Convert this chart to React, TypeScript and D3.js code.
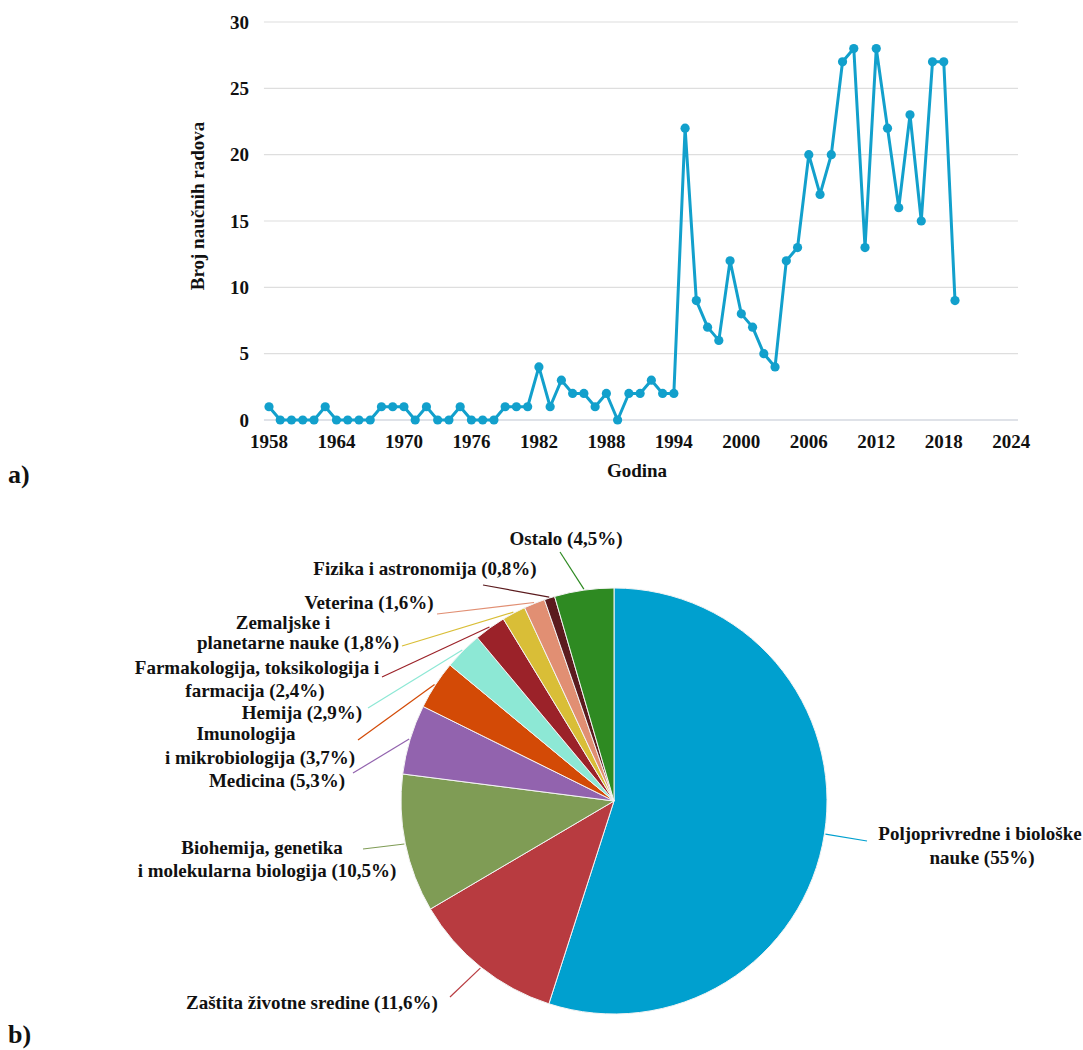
import React from "react";
import * as d3 from "d3";

// a) broj naučnih radova po godini
const years = d3.range(1958, 2020);
const papers = [
  1, 0, 0, 0, 0, 1, 0, 0, 0, 0, 1, 1, 1, 0, 1, 0, 0, 1, 0, 0, 0,
  1, 1, 1, 4, 1, 3, 2, 2, 1, 2, 0, 2, 2, 3, 2, 2,
  22, 9, 7, 6, 12, 8, 7, 5, 4, 12, 13, 20, 17, 20, 27, 28, 13, 28, 22, 16, 23, 15, 27, 27, 9,
];
const xTickYears = [1958, 1964, 1970, 1976, 1982, 1988, 1994, 2000, 2006, 2012, 2018, 2024];
const yTickValues = [0, 5, 10, 15, 20, 25, 30];

// b) oblasti
const areas = [
  "Poljoprivredne i biološke nauke",
  "Zaštita životne sredine",
  "Biohemija, genetika i molekularna biologija",
  "Medicina",
  "Imunologija i mikrobiologija",
  "Hemija",
  "Farmakologija, toksikologija i farmacija",
  "Zemaljske i planetarne nauke",
  "Veterina",
  "Fizika i astronomija",
  "Ostalo",
];
const shares = [55, 11.6, 10.5, 5.3, 3.7, 2.9, 2.4, 1.8, 1.6, 0.8, 4.5];
const labelLines = [
  ["Poljoprivredne i biološke", "nauke (55%)"],
  ["Zaštita životne sredine (11,6%)"],
  ["Biohemija, genetika", "i molekularna biologija (10,5%)"],
  ["Medicina (5,3%)"],
  ["Imunologija", "i mikrobiologija (3,7%)"],
  ["Hemija (2,9%)"],
  ["Farmakologija, toksikologija i", "farmacija (2,4%)"],
  ["Zemaljske i", "planetarne nauke (1,8%)"],
  ["Veterina (1,6%)"],
  ["Fizika i astronomija (0,8%)"],
  ["Ostalo (4,5%)"],
];
const sliceColors = [
  "#00a0cf", "#b83b40", "#7f9c55", "#9263ae", "#d34a06", "#8de8d5",
  "#9b2229", "#d9be37", "#e18f73", "#5b1b1e", "#2e8a22",
];

// label placement (text centre per line, leader line outer end)
const labelLayout = [
  { lines: [[980, 833], [982, 857]], end: [867, 841] },
  { lines: [[312, 1002]], end: [450, 997] },
  { lines: [[262, 847], [267, 870]], end: [363, 849] },
  { lines: [[277, 780]], end: [353, 773] },
  { lines: [[246, 733], [260, 757]], end: [358, 740] },
  { lines: [[302, 712]], end: [368, 708] },
  { lines: [[257, 667], [255, 690]], end: [382, 677] },
  { lines: [[283, 622], [298, 642]], end: [402, 646] },
  { lines: [[369, 602]], end: [437, 614] },
  { lines: [[425, 568]], end: [483, 585] },
  { lines: [[566, 538]], end: [560, 552] },
];

const FONT = "Liberation Serif, Tinos, Times New Roman, Times, DejaVu Serif, serif";
const LINE_BLUE = "#12a0cc";
const textStyle: React.CSSProperties = { fontFamily: FONT, fontWeight: 700 };

const LineChart: React.FC = () => {
  const x = d3.scaleLinear().domain([1958, 2019]).range([269, 955]);
  const y = d3.scaleLinear().domain([0, 30]).range([420, 22]);
  const gridX0 = x(1957.55);
  const gridX1 = x(2024.6);
  const line = d3
    .line<number>()
    .x((_, i) => x(years[i]))
    .y((d) => y(d));

  return (
    <g style={textStyle} fill="#111">
      {yTickValues.map((v) => (
        <g key={v}>
          <line x1={gridX0} x2={gridX1} y1={y(v)} y2={y(v)} stroke={v === 0 ? "#d5d9e0" : "#dedede"} strokeWidth={v === 0 ? 1.6 : 1.2} />
          <text x={249} y={y(v)} dy="0.35em" textAnchor="end" fontSize={19}>
            {v}
          </text>
        </g>
      ))}
      {xTickYears.map((t) => (
        <text key={t} x={x(t)} y={448} textAnchor="middle" fontSize={19}>
          {t}
        </text>
      ))}
      <text x={637} y={477} textAnchor="middle" fontSize={19}>
        Godina
      </text>
      <text transform="translate(204,206) rotate(-90)" textAnchor="middle" fontSize={19}>
        Broj naučnih radova
      </text>
      <path d={line(papers) ?? ""} fill="none" stroke={LINE_BLUE} strokeWidth={3} strokeLinejoin="round" />
      {papers.map((p, i) => (
        <circle key={i} cx={x(years[i])} cy={y(p)} r={4.6} fill={LINE_BLUE} />
      ))}
    </g>
  );
};

const PieChart: React.FC = () => {
  const cx = 614;
  const cy = 801;
  const r = 213;
  const pie = d3.pie<number>().sort(null).value((d) => d);
  const arcs = pie(shares);
  const arc = d3.arc<d3.PieArcDatum<number>>().innerRadius(0).outerRadius(r);

  return (
    <g style={textStyle} fill="#111">
      <g transform={`translate(${cx},${cy})`}>
        {arcs.map((a, i) => (
          <path key={i} d={arc(a) ?? ""} fill={sliceColors[i]} stroke="#f4f4f4" strokeWidth={1}>
            <title>{areas[i]}</title>
          </path>
        ))}
      </g>
      {arcs.map((a, i) => {
        const mid = (a.startAngle + a.endAngle) / 2;
        const sx = cx + (r + 1) * Math.sin(mid);
        const sy = cy - (r + 1) * Math.cos(mid);
        const [ex, ey] = labelLayout[i].end;
        return (
          <line key={i} x1={sx} y1={sy} x2={ex} y2={ey} stroke={sliceColors[i]} strokeWidth={1.2} />
        );
      })}
      {labelLines.map((lines, i) =>
        lines.map((txt, j) => (
          <text
            key={`${i}-${j}`}
            x={labelLayout[i].lines[j][0]}
            y={labelLayout[i].lines[j][1]}
            dy="0.35em"
            textAnchor="middle"
            fontSize={19}
          >
            {txt}
          </text>
        ))
      )}
    </g>
  );
};

export default function App() {
  return (
    <svg
      width={1083}
      height={1050}
      style={{ position: "absolute", left: 0, top: 0, background: "#fff" }}
    >
      <LineChart />
      <text x={8} y={483} style={textStyle} fontSize={26} fill="#111">
        a)
      </text>
      <PieChart />
      <text x={8} y={1043} style={textStyle} fontSize={26} fill="#111">
        b)
      </text>
    </svg>
  );
}
